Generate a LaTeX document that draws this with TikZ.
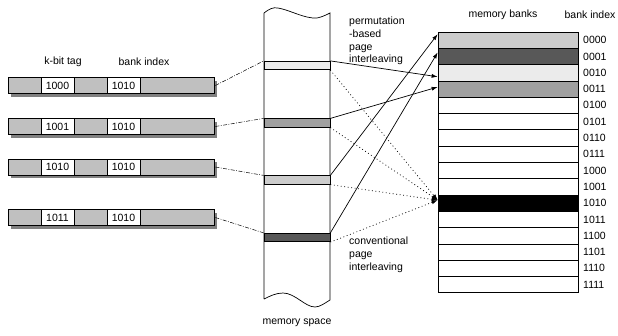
\documentclass[tikz,border=0pt]{standalone}
\usepackage{fontspec}
\setmainfont{Liberation Sans}
\usetikzlibrary{calc,arrows.meta}
\definecolor{barg}{HTML}{C0C0C0}
\definecolor{shad}{HTML}{808080}
\definecolor{lite}{HTML}{EBEBEB}
\definecolor{midg}{HTML}{A0A0A0}
\definecolor{ltg}{HTML}{CCCCCC}
\definecolor{dkg}{HTML}{585858}
\tikzset{
  lbl/.style={font=\fontsize{10.5}{12.7}\selectfont, inner sep=0pt},
  bar/.style={draw, fill=barg, minimum width=206pt, minimum height=16pt, inner sep=0pt, line width=0.7pt},
  cell/.style={draw, fill=white, minimum width=33pt, minimum height=16pt, inner sep=0pt, font=\fontsize{10.5}{12}\selectfont, line width=0.7pt},
  band/.style={draw, minimum width=66pt, minimum height=8.5pt, inner sep=0pt, line width=0.7pt},
  bank/.style={draw, minimum width=140pt, minimum height=16.3pt, inner sep=0pt, line width=0.7pt},
  dd/.style={dash pattern=on 4pt off 1.5pt on 0.8pt off 1.5pt, line width=0.5pt},
  dots/.style={dash pattern=on 0.9pt off 2.6pt, line width=0.7pt, -{Latex[length=6pt,width=4pt]}},
  arr/.style={line width=0.7pt, -{Latex[length=6pt,width=4pt]}}
}
\begin{document}
\begin{tikzpicture}[x=1pt,y=-1pt]
\useasboundingbox (0,0) rectangle (618,335);
% left headers
\node[lbl] (hk) at (63,62) {k-bit tag};
\node[lbl] (hb) at (144,62) {bank index};
% left rows
\foreach \i/\y/\t in {1/85.5/1000, 2/126.5/1001, 3/167/1010, 4/217.5/1011}{
  \fill[shad] (11,\y-5) rectangle (217,\y+11);
  \node[bar] (r\i) at (111,\y) {};
  \node[cell] (t\i) at (57.5,\y) {\t};
  \node[cell] (k\i) at (123.5,\y) {1010};
}
% memory space column
\draw[line width=0.7pt] (264,299) -- (264,13)
  .. controls (269,9) and (273,7) .. (278,8)
  .. controls (290,10) and (305,19) .. (317,18)
  .. controls (322,17) and (326,15) .. (330,13) -- (330,300)
  .. controls (325,303) and (320,307) .. (315,307)
  .. controls (305,307) and (295,293) .. (283,293)
  .. controls (276,293) and (270,296) .. (264,299);
\node[band, fill=lite] (m1) at (297,65.5) {};
\node[band, fill=midg] (m2) at (297,123) {};
\node[band, fill=ltg] (m3) at (297,180) {};
\node[band, fill=dkg] (m4) at (297,237.5) {};
\node[lbl] (ms) at (297,323) {memory space};
% memory banks
\node[lbl] (hmb) at (503,15) {memory banks};
\node[lbl] (hbi) at (590,15) {bank index};
\foreach \i/\t/\c in {0/0000/ltg,1/0001/dkg,2/0010/lite,3/0011/midg,4/0100/white,5/0101/white,6/0110/white,7/0111/white,8/1000/white,9/1001/white,10/1010/black,11/1011/white,12/1100/white,13/1101/white,14/1110/white,15/1111/white}{
  \node[bank, fill=\c] (b\i) at (508,{32+16.3*(\i+0.5)}) {};
  \node[lbl, anchor=west] (bi\i) at (583,{32+16.3*(\i+0.5)}) {\t};
}
% texts
\node[lbl, align=left, anchor=north west] (perm) at (349,17) {permutation\\-based\\page\\interleaving};
\node[lbl, align=left, anchor=north west] (conv) at (349,237) {conventional\\page\\interleaving};
% dash-dot connectors
\foreach \i in {1,2,3,4}{
  \draw[dd] ([xshift=1pt]r\i.east) -- (m\i.north west);
}
% permutation arrows
\draw[arr] (m1.north east) -- ($(b2.west)+(0,4)$);
\draw[arr] (m2.north east) -- ($(b3.west)+(0,-2)$);
\draw[arr] (m3.north east) -- ($(b0.west)+(0,-6)$);
\draw[arr] (m4.north east) -- ($(b1.west)+(0,-4)$);
% conventional arrows
\coordinate (tgt) at ($(b10.west)+(0,-3)$);
\foreach \i in {1,2,3,4}{
  \draw[dots] (m\i.south east) -- (tgt);
}
\end{tikzpicture}
\end{document}
